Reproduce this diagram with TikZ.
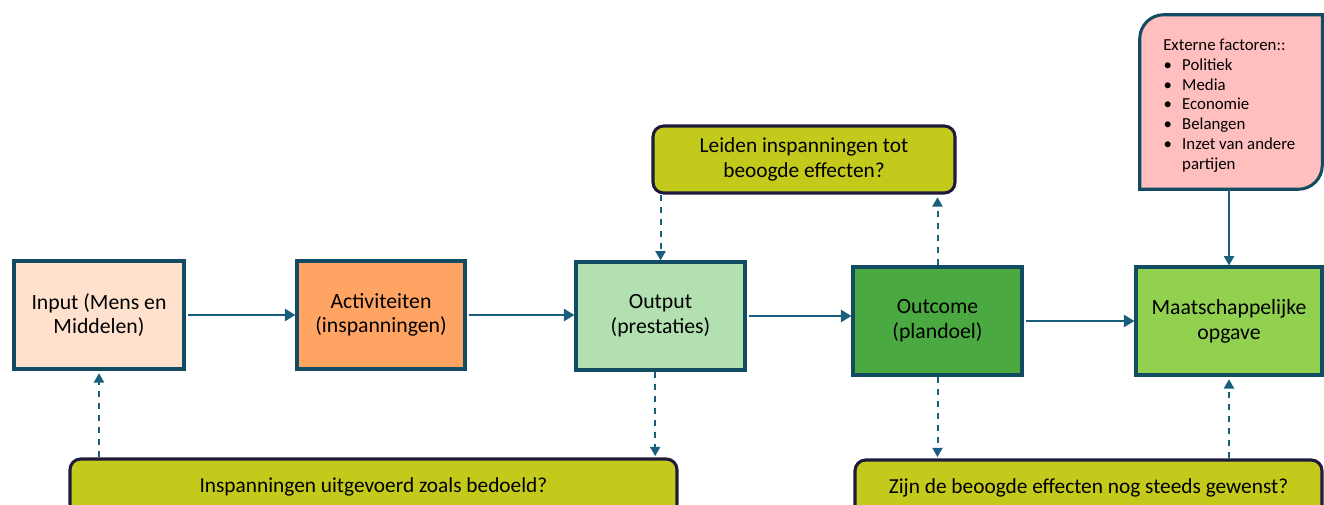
\documentclass[tikz,border=0pt]{standalone}
\usepackage{fontspec}
\setmainfont{Carlito}
\usetikzlibrary{arrows.meta,calc}
\definecolor{bord}{HTML}{124C62}
\definecolor{arr}{HTML}{1A5E7E}
\definecolor{qbord}{HTML}{1E1B3C}
\definecolor{cin}{HTML}{FFE1CD}
\definecolor{cact}{HTML}{FFA463}
\definecolor{cout}{HTML}{B3E0B0}
\definecolor{coc}{HTML}{4AA941}
\definecolor{cmo}{HTML}{92D050}
\definecolor{cq}{HTML}{C3CA1B}
\definecolor{cext}{HTML}{FFBFBF}
\tikzset{
  stagebox/.style={draw=bord, line width=2.3pt, align=center, inner sep=0pt,
    font=\fontsize{16.3}{18.5}\selectfont, minimum height={108*0.75pt}},
  qbox/.style={draw=qbord, fill=cq, line width=2.3pt, rounded corners=8pt, align=center,
    inner sep=0pt, font=\fontsize{16}{19}\selectfont},
  solidarrow/.style={draw=arr, line width=2.2pt, -{Triangle[length=8pt,width=9pt]}, shorten <=2pt},
  dasharrow/.style={draw=arr, line width=1.5pt, dash pattern=on 5pt off 4pt, -{Triangle[length=7pt,width=7.5pt]}, shorten >=2pt},
  extshape/.style={line width=2.3pt}
}
\newcommand{\extitem}{\makebox[14.2pt][l]{\hspace{0.3pt}•}}
\begin{document}
\begin{tikzpicture}[x=0.75pt,y=-0.75pt]
\useasboundingbox (0,0) rectangle (1324,504);
\clip (0,0) rectangle (1324,504);
% stage boxes
\node[stagebox, fill=cin, minimum width={170*0.75pt}] (in) at (99,315) {Input (Mens en\\Middelen)};
\node[stagebox, fill=cact, minimum width={168*0.75pt}] (act) at (381,315) {Activiteiten\\(inspanningen)};
\node[stagebox, fill=cout, minimum width={169*0.75pt}] (out) at (660.5,316) {Output\\(prestaties)};
\node[stagebox, fill=coc, minimum width={169*0.75pt}] (oc) at (937.5,321) {Outcome\\(plandoel)};
\node[stagebox, fill=cmo, minimum width={186*0.75pt}] (mo) at (1229,321) {Maatschappelijke\\opgave};
% question boxes
\node[qbox, minimum width={302*0.75pt}, minimum height={67*0.75pt}] (lei) at (804,159.5) {Leiden inspanningen tot\\beoogde effecten?};
\node[qbox, minimum width={607*0.75pt}, minimum height={56*0.75pt}] (insp) at (373.5,487) {Inspanningen uitgevoerd zoals bedoeld?};
\node[qbox, minimum width={467*0.75pt}, minimum height={56*0.75pt}] (zijn) at (1088.5,488) {Zijn de beoogde effecten nog steeds gewenst?};
% external factors
\node[minimum width={182*0.75pt}, minimum height={174*0.75pt}, inner sep=0pt] (ext) at (1231,102) {};
\draw[extshape, draw=bord, fill=cext] (ext.east) [rounded corners=18pt] -- (ext.south east) -- (ext.south) [sharp corners] -- (ext.south west) -- (ext.west) [rounded corners=18pt] -- (ext.north west) -- (ext.north) [sharp corners] -- (ext.north east) -- cycle;
\node[anchor=north west, align=left, inner sep=0pt, font=\fontsize{12.6}{14.8}\selectfont] (exttext) at (1163,39)
 {Externe factoren::\\
  \extitem Politiek\\
  \extitem Media\\
  \extitem Economie\\
  \extitem Belangen\\
  \extitem Inzet van andere\\
  \makebox[14.2pt][l]{}partijen};
% solid arrows
\draw[solidarrow] (in.east) -- (act.west);
\draw[solidarrow] (act.east) -- (act.east -| out.west);
\draw[solidarrow] (out.east) -- (out.east -| oc.west);
\draw[solidarrow] (oc.east) -- (mo.west);
\draw[draw=arr, line width=1.5pt, -{Triangle[length=7pt,width=7.5pt]}] (ext.south -| mo.north) -- (mo.north);
% dashed arrows
\draw[dasharrow, shorten >=0pt] (lei.south -| out.north) -- (out.north);
\draw[dasharrow] (oc.north) -- (oc.north |- lei.south);
\draw[dasharrow, shorten >=1pt] ([xshift=-4pt]out.south) -- ([xshift=-4pt]out.south |- insp.north);
\draw[dasharrow] (in.south |- insp.north) -- (in.south);
\draw[dasharrow, shorten >=1pt] (oc.south) -- (oc.south |- zijn.north);
\draw[dasharrow] (mo.south |- zijn.north) -- (mo.south);
\end{tikzpicture}
\end{document}
